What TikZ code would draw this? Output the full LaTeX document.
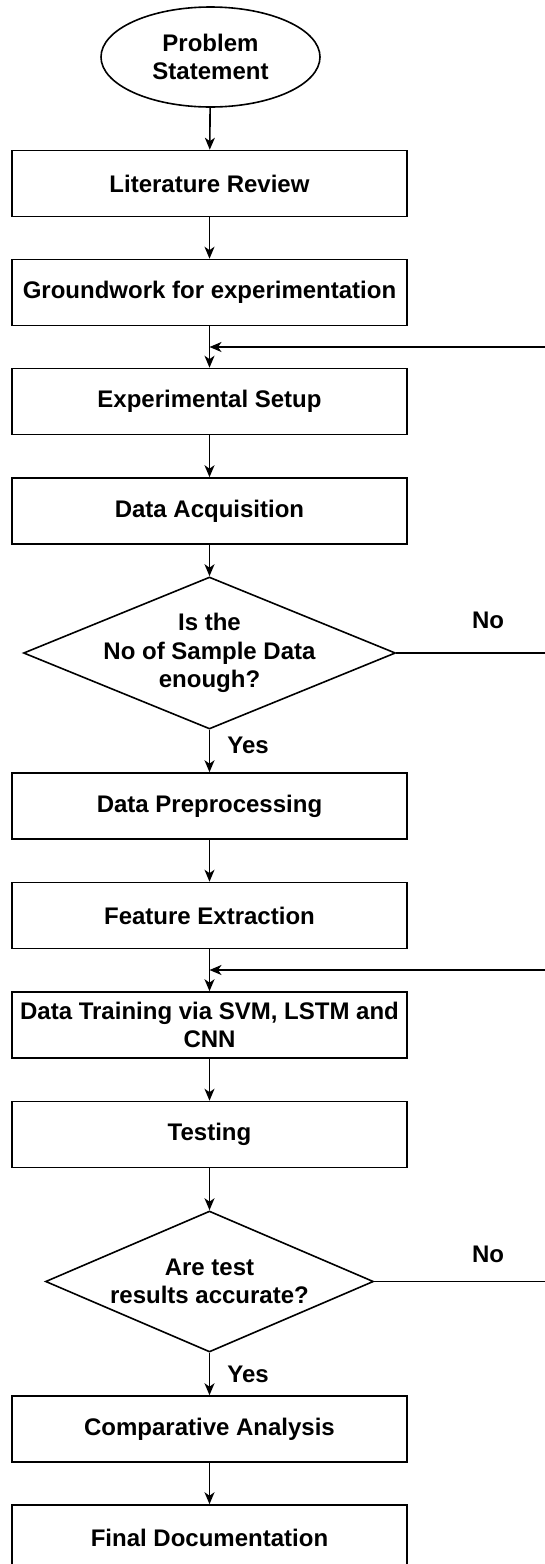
\documentclass[tikz,border=0pt]{standalone}
\usepackage{fontspec}
\setmainfont{Liberation Sans}
\usetikzlibrary{shapes.geometric,arrows.meta}
\begin{document}
\begin{tikzpicture}[x=1pt,y=-1pt,
  txt/.style={font=\fontsize{24}{28.5}\selectfont\bfseries, align=center, text=black},
  box/.style={txt, draw=black, line width=1.6pt, fill=white, minimum width=395pt, minimum height=66pt, inner sep=0pt},
  term/.style={txt, ellipse, draw=black, line width=1.6pt, fill=white, minimum width=219pt, minimum height=100pt, inner sep=0pt},
  decision/.style={diamond, draw=black, line width=1.6pt, fill=white, inner sep=0pt},
  lbl/.style={txt, inner sep=0pt},
  arr/.style={-{Stealth[length=12pt,width=10pt,inset=3.5pt]}, line width=1.6pt, draw=black},
  link/.style={line width=1.6pt, draw=black}]
\useasboundingbox (0,0) rectangle (545,1564);
\clip (0,0) rectangle (545,1564);
\fill[white] (0,0) rectangle (545,1564);

\node[term] (ps) at (210.5,57) {Problem\\Statement};
\node[box] (lr) at (209.5,183.5) {Literature Review};
\node[box] (gw) at (209.5,292.5) {Groundwork for experimentation};
\node[box] (es) at (209.5,401.5) {Experimental Setup};
\node[box] (da) at (209.5,511) {Data Acquisition};
\node[decision, minimum width=372pt, minimum height=152pt,
  label={[txt, name=d1t]center:Is the\\No of Sample Data\\enough?}] (d1) at (209.5,653) {};
\node[box] (dp) at (209.5,806) {Data Preprocessing};
\node[box] (fe) at (209.5,915.5) {Feature Extraction};
\node[box] (dt) at (209.5,1025) {Data Training via SVM, LSTM and\\CNN};
\node[box] (te) at (209.5,1134.5) {Testing};
\node[decision, minimum width=328pt, minimum height=141pt,
  label={[txt, name=d2t]center:Are test\\results accurate?}] (d2) at (209.5,1281.5) {};
\node[box] (ca) at (209.5,1429) {Comparative Analysis};
\node[box] (fd) at (209.5,1538) {Final Documentation};

\node[lbl] (no1) at (488,620) {No};
\node[lbl] (yes1) at (248,745) {Yes};
\node[lbl] (no2) at (488,1254) {No};
\node[lbl] (yes2) at (248,1374) {Yes};

\coordinate (j1) at (209.5,347);
\coordinate (j2) at (209.5,970);
\coordinate (r1a) at (570,653);
\coordinate (r1b) at (570,347);
\coordinate (r2a) at (580,1281.5);
\coordinate (r2b) at (580,970);

\draw[arr] (ps) -- (lr);
\draw[arr] (lr) -- (gw);
\draw[arr] (gw) -- (es);
\draw[arr] (es) -- (da);
\draw[arr] (da) -- (d1);
\draw[arr] (d1) -- (dp);
\draw[arr] (dp) -- (fe);
\draw[arr] (fe) -- (dt);
\draw[arr] (dt) -- (te);
\draw[arr] (te) -- (d2);
\draw[arr] (d2) -- (ca);
\draw[arr] (ca) -- (fd);

\draw[arr] (d1.east) -- (r1a) -- (r1b) -- (j1);
\draw[arr] (d2.east) -- (r2a) -- (r2b) -- (j2);
\end{tikzpicture}
\end{document}
